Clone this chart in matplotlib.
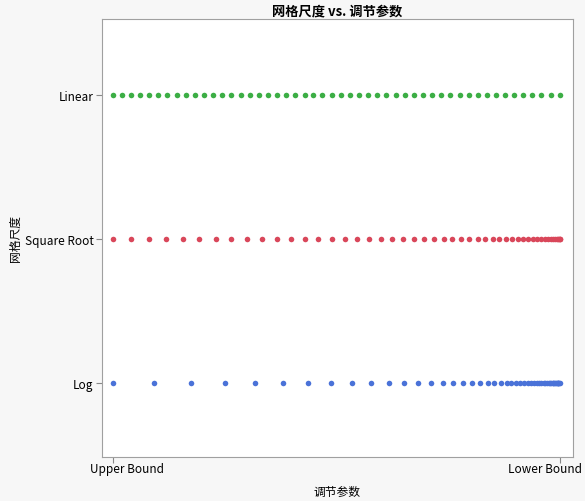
import matplotlib as mpl
mpl.use("Agg")
import matplotlib.pyplot as plt

plt.rcParams["font.family"] = ["Noto Sans CJK SC", "DejaVu Sans"]

categories = ["Log", "Square Root", "Linear"]
x_ticklabels = ["Upper Bound", "Lower Bound"]

linear_x = [0, .020, .041, .061, .082, .102, .122, .143, .163, .184, .204, .224, .245,
            .265, .286, .306, .327, .347, .367, .388, .408, .429, .449, .469, .490, .510,
            .531, .551, .571, .592, .612, .633, .653, .673, .694, .714, .735, .755, .776,
            .796, .816, .837, .857, .878, .898, .918, .939, .959, .980, 1.0]
sqrt_x = [0, .040, .080, .119, .157, .194, .230, .265, .300, .334, .367, .399, .430,
          .460, .490, .519, .546, .574, .600, .625, .650, .674, .696, .718, .740, .760,
          .780, .798, .816, .833, .850, .865, .880, .893, .906, .918, .930, .940, .950,
          .958, .966, .973, .980, .985, .990, .993, .996, .998, .9996, 1.0]
log_x = [0, .092, .175, .250, .318, .380, .437, .489, .535, .578, .617, .651, .683,
         .712, .738, .762, .784, .804, .822, .839, .854, .868, .881, .892, .903, .912,
         .921, .929, .936, .943, .949, .954, .959, .964, .968, .972, .975, .978, .981,
         .984, .986, .988, .990, .992, .994, .995, .996, .997, .998, 1.0]

colors = {"Log": "#4a72d8", "Square Root": "#d9475a", "Linear": "#3cae45"}
series = {"Log": log_x, "Square Root": sqrt_x, "Linear": linear_x}

fig = plt.figure(figsize=(5.85, 5.02), dpi=100, facecolor="#f7f7f7")
ax = fig.add_axes([0.174, 0.088, 0.805, 0.872])
ax.set_facecolor("white")

for i, name in enumerate(categories):
    xs = series[name]
    ax.scatter(xs, [i] * len(xs), s=16, color=colors[name], linewidths=0, zorder=3)

ax.set_xlim(-0.0246, 1.029)
ax.set_ylim(-0.514, 2.528)
ax.set_xticks([0, 1])
ax.set_xticklabels(["", ""])
# end labels drawn by hand, nudged inward like the reference
trans = ax.get_xaxis_transform()
ax.text(-0.052, -0.012, x_ticklabels[0], transform=trans, ha="left", va="top", fontsize=8.5)
ax.text(1.05, -0.012, x_ticklabels[1], transform=trans, ha="right", va="top", fontsize=8.5)
ax.set_yticks(range(len(categories)))
ax.set_yticklabels(categories, fontsize=8.5)
ax.tick_params(length=4, color="#888888", pad=2)
for spine in ax.spines.values():
    spine.set_color("#a0a0a0")
    spine.set_linewidth(0.8)

ax.set_title("网格尺度 vs. 调节参数", fontsize=9.5, fontweight="bold", pad=3)
ax.set_xlabel("调节参数", fontsize=8.5, labelpad=14)
ax.set_ylabel("网格尺度", fontsize=8.5, labelpad=2)

fig.savefig("out.png", dpi=100, facecolor=fig.get_facecolor())
